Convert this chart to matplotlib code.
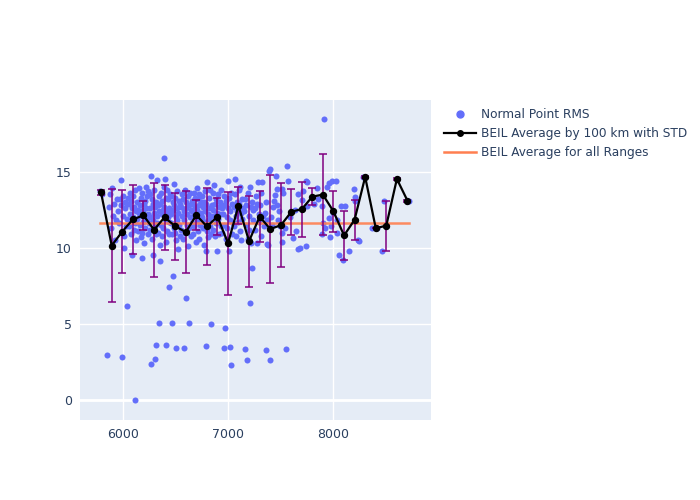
import matplotlib
matplotlib.use("Agg")
import matplotlib.pyplot as plt
from matplotlib.lines import Line2D

# ------------------------------------------------------------------ data
# normal point RMS by range (km), grouped per 100 km
range_km = [
    5785, 5795,
    5850, 5862, 5875, 5888, 5897, 5905, 5918, 5925, 5935, 5940,
    5955, 5962, 5970, 5978, 5981, 5988, 5990, 5995, 6000, 6005, 6010, 6015, 6020, 6028, 6035, 6038, 6042, 6048,
    6053, 6058, 6062, 6067, 6071, 6075, 6080, 6084, 6088, 6093, 6097, 6101, 6106, 6110, 6111, 6115, 6120, 6124, 6129, 6133, 6138, 6144,
    6152, 6156, 6160, 6164, 6168, 6172, 6176, 6179, 6181, 6185, 6189, 6193, 6197, 6201, 6205, 6209, 6213, 6217, 6221, 6225, 6229, 6233, 6237, 6241, 6246,
    6252, 6256, 6260, 6264, 6267, 6270, 6273, 6277, 6281, 6285, 6289, 6293, 6297, 6301, 6305, 6309, 6313, 6314, 6317, 6321, 6325, 6327, 6331, 6335, 6339, 6340, 6344, 6348,
    6352, 6355, 6359, 6363, 6367, 6371, 6375, 6379, 6383, 6387, 6390, 6394, 6397, 6401, 6405, 6406, 6409, 6413, 6417, 6421, 6425, 6429, 6433, 6435, 6438, 6442, 6446, 6449,
    6452, 6456, 6460, 6464, 6468, 6472, 6473, 6477, 6481, 6485, 6489, 6493, 6497, 6501, 6502, 6506, 6510, 6514, 6518, 6522, 6526, 6530, 6535, 6540, 6546,
    6552, 6556, 6560, 6564, 6568, 6572, 6576, 6580, 6584, 6588, 6592, 6596, 6600, 6604, 6608, 6612, 6616, 6620, 6624, 6628, 6632, 6636, 6640, 6644, 6648,
    6652, 6656, 6660, 6664, 6668, 6672, 6676, 6680, 6684, 6688, 6692, 6696, 6700, 6704, 6708, 6712, 6716, 6720, 6724, 6728, 6732, 6736, 6740, 6744, 6748,
    6752, 6756, 6760, 6764, 6768, 6772, 6776, 6780, 6784, 6788, 6790, 6794, 6798, 6802, 6806, 6810, 6814, 6818, 6822, 6826, 6830, 6834, 6838, 6841, 6846,
    6852, 6857, 6861, 6866, 6870, 6875, 6879, 6884, 6888, 6893, 6897, 6902, 6906, 6911, 6915, 6920, 6924, 6929, 6933, 6938, 6942, 6947,
    6953, 6958, 6962, 6966, 6971, 6975, 6980, 6984, 6989, 6993, 6998, 7002, 7007, 7011, 7016, 7020, 7022, 7025, 7029, 7034, 7039, 7045,
    7053, 7058, 7063, 7069, 7074, 7079, 7084, 7090, 7095, 7100, 7105, 7111, 7116, 7121, 7126, 7132, 7137, 7143,
    7153, 7159, 7164, 7169, 7175, 7181, 7186, 7192, 7197, 7203, 7208, 7210, 7214, 7219, 7225, 7229, 7235, 7242,
    7254, 7260, 7266, 7273, 7279, 7286, 7292, 7298, 7305, 7311, 7318, 7321, 7330, 7342,
    7352, 7359, 7366, 7370, 7375, 7384, 7393, 7397, 7400, 7410, 7420, 7430, 7440, 7448,
    7455, 7465, 7470, 7480, 7490, 7495, 7511, 7513, 7517, 7527, 7540, 7550,
    7562, 7568, 7590, 7622, 7640, 7648,
    7667, 7670, 7686, 7708, 7714, 7740, 7743, 7750, 7752,
    7820, 7848, 7855,
    7892, 7898, 7908, 7917, 7924, 7940,
    7962, 7965, 7971, 7980, 7988, 7995, 8025, 8035, 8040,
    8057, 8080, 8093, 8110, 8152,
    8203, 8210, 8212, 8235, 8248,
    8290,
    8370, 8420,
    8470, 8486,
    8607,
    8708, 8727,
]
rms_cm = [
    13.7, 13.5,
    2.96, 12.7, 13.5, 11.3, 13.9, 12.1, 12.9, 10.5, 11.8, 13.2,
    12.4, 11.6, 13.2, 12.8, 14.47, 11.0, 2.83, 13.4, 12.1, 10.8, 10.0, 12.6, 13.0, 11.4, 12.9, 6.2, 11.9, 13.3,
    12.9, 11.4, 13.6, 12.2, 10.9, 13.1, 11.8, 12.6, 9.5, 13.4, 12.0, 11.2, 12.7, 13.8, 0.0, 11.6, 12.4, 10.5, 13.0, 11.9, 12.5, 11.1,
    12.3, 13.9, 11.5, 12.8, 10.7, 13.3, 12.1, 11.0, 9.3, 13.6, 12.5, 11.7, 12.9, 10.3, 13.1, 12.0, 11.3, 14.0, 12.6, 11.9, 13.4, 10.9, 12.2, 13.7, 11.6,
    12.6, 11.2, 13.5, 14.7, 12.0, 2.35, 10.6, 13.2, 11.8, 12.9, 9.5, 12.3, 13.8, 11.4, 2.7, 12.7, 10.9, 3.64, 13.0, 12.1, 11.6, 14.47, 12.8, 11.0, 13.4, 5.07, 12.4, 10.2,
    9.14, 12.9, 11.5, 13.6, 12.2, 10.8, 13.1, 12.5, 11.3, 14.0, 15.9, 12.7, 14.5, 11.9, 13.3, 3.62, 10.4, 12.4, 13.8, 11.1, 12.0, 13.2, 10.9, 7.46, 12.6, 11.7, 13.5, 12.3,
    11.6, 13.4, 12.2, 5.07, 10.9, 13.0, 8.18, 12.5, 11.3, 14.2, 12.8, 11.0, 13.3, 12.0, 3.44, 10.5, 12.6, 13.7, 11.8, 12.3, 9.9, 13.1, 11.5, 12.9, 10.8,
    12.7, 11.2, 13.5, 12.1, 10.6, 13.2, 11.8, 12.4, 3.44, 13.8, 11.0, 12.6, 6.71, 13.0, 11.5, 12.2, 10.1, 13.4, 12.8, 11.3, 5.07, 12.0, 13.6, 10.8, 12.5,
    12.4, 13.1, 11.6, 12.9, 10.9, 13.6, 12.2, 11.4, 13.3, 12.7, 10.4, 12.0, 13.9, 11.8, 12.5, 13.2, 11.1, 12.8, 10.6, 13.5, 12.1, 11.5, 13.0, 12.3, 11.9,
    12.0, 13.4, 11.3, 12.7, 10.2, 13.0, 12.4, 11.7, 13.7, 9.8, 3.55, 12.9, 11.1, 14.3, 12.2, 10.7, 13.3, 11.9, 12.6, 11.4, 13.8, 12.1, 10.9, 5.02, 12.8,
    12.5, 11.2, 13.6, 12.1, 14.1, 10.8, 12.9, 11.6, 13.2, 12.3, 9.8, 13.5, 11.9, 12.7, 10.9, 13.0, 12.2, 11.4, 13.8, 12.6, 11.0, 12.8,
    12.2, 13.4, 3.44, 11.5, 12.8, 4.71, 10.6, 13.1, 12.0, 11.3, 14.4, 12.6, 9.8, 13.3, 11.8, 12.4, 3.51, 2.33, 13.6, 10.9, 12.9, 11.6,
    12.7, 11.4, 13.5, 14.5, 12.1, 10.8, 13.0, 12.4, 11.7, 13.8, 12.9, 11.1, 14.0, 12.3, 10.5, 13.2, 11.9, 12.6,
    12.4, 3.36, 13.2, 11.5, 12.8, 2.63, 10.6, 13.6, 12.1, 11.2, 14.0, 6.4, 12.7, 10.3, 13.0, 8.68, 11.8, 12.5,
    12.6, 11.2, 13.4, 10.3, 12.9, 14.3, 11.7, 12.2, 12.83, 13.6, 10.8, 14.3, 12.1, 11.4,
    12.28, 3.29, 13.0, 11.8, 10.24, 10.2, 15.07, 2.63, 15.2, 12.0, 11.5, 12.7, 13.1, 13.49,
    14.74, 12.8, 13.88, 11.8, 12.4, 11.4, 10.35, 10.96, 13.86, 13.6, 11.3, 3.38,
    15.35, 14.4, 12.0, 10.64, 12.5, 11.1,
    13.55, 9.9, 10.0, 13.16, 13.7, 14.4, 10.1, 12.76, 14.3,
    12.9, 13.95, 13.2,
    10.9, 12.72, 11.62, 18.46, 11.3, 14.0,
    14.25, 11.95, 10.74, 11.4, 14.36, 12.3, 14.4, 10.96, 11.8,
    9.54, 12.72, 9.2, 12.72, 9.8,
    13.86, 13.33, 13.05, 10.53, 10.42,
    14.67,
    11.3, 11.28,
    9.76, 13.05,
    14.52,
    13.1, 13.09,
]

# 100 km averages with standard deviation
avg_km = [5790, 5892, 5993, 6093, 6194, 6295, 6395, 6497, 6597, 6698,
          6798, 6899, 7000, 7099, 7200, 7301, 7403, 7504, 7604, 7703,
          7803, 7903, 8004, 8105, 8205, 8306, 8407, 8507, 8608, 8709]
avg_rms = [13.64, 10.15, 11.07, 11.86, 12.13, 11.18, 12.0, 11.42, 11.03, 12.15,
           11.4, 12.04, 10.3, 12.76, 10.44, 12.04, 11.23, 11.49, 12.37, 12.54,
           13.36, 13.49, 12.39, 10.81, 11.84, 14.65, 11.29, 11.45, 14.52, 13.09]
avg_std = [0.15, 3.7, 2.73, 2.25, 0.93, 3.07, 2.14, 2.2, 2.69, 0.96,
           2.5, 1.23, 3.37, 1.2, 2.98, 1.66, 3.56, 2.75, 1.5, 1.8,
           0.58, 2.64, 1.34, 1.59, 1.32, 0.05, 0.0, 1.64, 0.08, 0.08]

overall_avg = 11.62

# ------------------------------------------------------------------ plot
fig = plt.figure(figsize=(7, 5), dpi=100)
ax = fig.add_axes([80 / 700, 80 / 500, 351 / 700, 320 / 500])
ax.set_facecolor("#E5ECF6")

ax.scatter(range_km, rms_cm, s=19, color="#636efa", linewidths=0, zorder=3)
ax.plot([min(range_km), max(range_km)], [overall_avg, overall_avg],
        color="#ff7f50", lw=1.8, alpha=0.9, zorder=4)
ax.errorbar(avg_km, avg_rms, yerr=avg_std, fmt="none", ecolor="purple",
            elinewidth=1.1, capsize=3, capthick=1.1, zorder=5)
ax.plot(avg_km, avg_rms, "-o", color="black", lw=1.6, ms=4.3, zorder=6)

ax.set_xlim(5590, 8933)
ax.set_ylim(-1.3, 19.7)
ax.set_xticks([6000, 7000, 8000])
ax.set_yticks([0, 5, 10, 15])
ax.grid(True, color="white", lw=1)
ax.axhline(0, color="white", lw=2, zorder=1)
ax.set_axisbelow(True)
for s in ax.spines.values():
    s.set_visible(False)
ax.tick_params(length=0, labelsize=9, labelcolor="#2a3f5f", pad=6)

handles = [
    Line2D([], [], ls="none", marker="o", ms=5, color="#636efa"),
    Line2D([], [], color="black", lw=1.6, marker="o", ms=4),
    Line2D([], [], color="#ff7f50", lw=1.8),
]
labels = ["Normal Point RMS", "BEIL Average by 100 km with STD",
          "BEIL Average for all Ranges"]
fig.legend(handles, labels, loc="upper left", bbox_to_anchor=(0.627, 0.793),
           frameon=False, fontsize=8.7, labelcolor="#2a3f5f", handlelength=2.7,
           handletextpad=0.35, labelspacing=0.5, borderaxespad=0)

fig.savefig("out.png", dpi=100)
